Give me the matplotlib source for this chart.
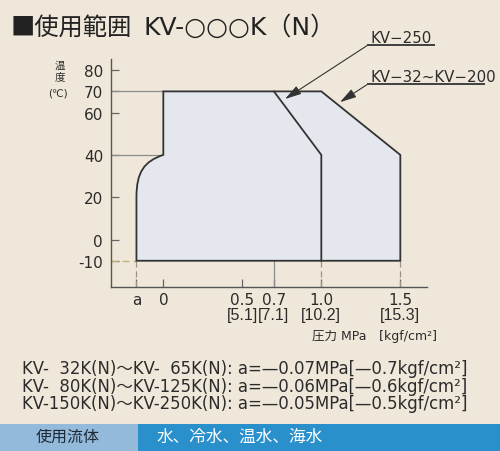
import matplotlib
matplotlib.use('Agg')
import matplotlib.pyplot as plt
from matplotlib.path import Path
from matplotlib.patches import PathPatch, Rectangle
from matplotlib.transforms import blended_transform_factory

plt.rcParams['font.family'] = ['DejaVu Sans', 'Noto Sans CJK JP']

colors = {
    'bg': '#EFE8DA',
    'fill': '#E4E8EE',
    'edge': '#333333',
    'ref': '#8C8C8C',
    'gold': '#C4B27A',
    'text': '#2B2B2B',
    'band_left': '#93BADA',
    'band_right': '#2A90CC',
}

# range data (pressure MPa, temperature C); "a" is drawn schematically left of 0
a_pos = -0.17
t_min, t_knee, t_max = -10, 40, 70
p_250_knee, p_small, p_large = 0.7, 1.0, 1.5
t_curve_end = 20

temp_ticks = [-10, 0, 20, 40, 60, 70, 80]
press_ticks = [a_pos, 0, 0.5, 0.7, 1.0, 1.5]
press_labels = ['a', '0', '0.5', '0.7', '1.0', '1.5']
kgf_labels = ['', '', '[5.1]', '[7.1]', '[10.2]', '[15.3]']

notes = [
    'KV-\u200732K(N)\u301cKV-\u200765K(N): a=\u20140.07MPa[\u20140.7kgf/cm\u00b2]',
    'KV-\u200780K(N)\u301cKV-125K(N): a=\u20140.06MPa[\u20140.6kgf/cm\u00b2]',
    'KV-150K(N)\u301cKV-250K(N): a=\u20140.05MPa[\u20140.5kgf/cm\u00b2]',
]
fluids = '水、冷水、温水、海水'

W, H = 500, 452


def fx(px):
    return px / W


def fy(py):
    return 1 - py / H


fig = plt.figure(figsize=(5, 4.52), dpi=100, facecolor=colors['bg'])
ax = fig.add_axes([fx(110.7), fy(288), 316 / W, 228 / H])
ax.set_facecolor('none')
ax.set_xlim(-0.333, 1.667)
ax.set_ylim(-22.4, 85.3)
for s in ['top', 'right']:
    ax.spines[s].set_visible(False)
for s in ['left', 'bottom']:
    ax.spines[s].set_color('#555555')
    ax.spines[s].set_linewidth(1.0)

# operating range outline
verts = [(a_pos, t_min), (p_large, t_min), (p_large, t_knee), (p_small, t_max),
         (0, t_max), (0, t_knee),
         (-0.12, 37), (a_pos, 32), (a_pos, t_curve_end),
         (a_pos, t_min), (a_pos, t_min)]
codes = [Path.MOVETO, Path.LINETO, Path.LINETO, Path.LINETO,
         Path.LINETO, Path.LINETO,
         Path.CURVE4, Path.CURVE4, Path.CURVE4,
         Path.LINETO, Path.CLOSEPOLY]
ax.add_patch(PathPatch(Path(verts, codes), facecolor=colors['fill'],
                       edgecolor=colors['edge'], lw=1.3, zorder=3))
ax.plot([p_250_knee, p_small, p_small], [t_max, t_knee, t_min],
        color=colors['edge'], lw=1.3, zorder=4)

# reference lines
x0 = ax.get_xlim()[0]
y0 = ax.get_ylim()[0]
ax.plot([x0, 0], [t_max, t_max], color=colors['ref'], lw=0.9, zorder=2)
ax.plot([x0, 0], [t_knee, t_knee], color=colors['ref'], lw=0.9, zorder=2)
ax.plot([x0, a_pos], [t_min, t_min], color=colors['gold'], lw=1.0,
        ls=(0, (5, 3)), zorder=2)
for xv in [a_pos, p_small, p_large]:
    ax.plot([xv, xv], [y0, t_min], color='#9A9486', lw=0.9,
            ls=(0, (5, 3)), zorder=2)
ax.plot([p_250_knee, p_250_knee], [y0, t_min], color='#8C8C8C', lw=0.9, zorder=2)

ax.set_yticks(temp_ticks)
ax.set_yticklabels([str(t) for t in temp_ticks])
ax.set_xticks(press_ticks)
ax.set_xticklabels(press_labels)
ax.tick_params(direction='in', length=6, width=0.9, color='#666666',
               labelsize=11, labelcolor=colors['text'])
ax.tick_params(axis='y', pad=5.5)
ax.tick_params(axis='x', pad=3.5)

# second row of x labels in kgf/cm2
trans = blended_transform_factory(ax.transData, fig.transFigure)
for xv, lab in zip(press_ticks, kgf_labels):
    ax.text(xv, fy(320), lab, transform=trans, ha='center', va='baseline',
            fontsize=11.5, family=['Liberation Sans'], color=colors['text'],
            clip_on=False)

# axis titles
fig.text(fx(60), fy(66), '温', fontsize=7.5, ha='center', va='center',
         color=colors['text'])
fig.text(fx(60), fy(77), '度', fontsize=7.5, ha='center', va='center',
         color=colors['text'])
fig.text(fx(58), fy(94), '(℃)', fontsize=7.5, ha='center', va='center',
         color=colors['text'])
fig.text(fx(374), fy(337), '圧力 MPa\u3000[kgf/cm\u00b2]', fontsize=9,
         ha='center', va='center', color=colors['text'])

# title
fig.text(fx(11), fy(28), '■使用範囲', fontsize=17.5, ha='left', va='center',
         color='#222222', family=['Noto Sans CJK JP'])
fig.text(fx(143), fy(28), 'KV-○○○K（N）', fontsize=18, ha='left',
         va='center', color='#222222')

# leader labels
labels = [('KV\u2212250', 43, 46, 435, (0.77, 66.4)),
          ('KV\u221232~KV\u2212200', 82, 85, 485, (1.118, 64.9))]
for txt, ty, uy, ux2, tip in labels:
    fig.text(fx(370), fy(ty), txt, fontsize=10.8, ha='left', va='baseline',
             color=colors['text'])
    fig.add_artist(Rectangle((fx(367), fy(uy + 0.6)), fx(ux2) - fx(367),
                             1.3 / H, transform=fig.transFigure,
                             facecolor='#444444', edgecolor='none', zorder=5))
    ax.annotate('', xy=tip, xytext=(fx(368), fy(uy)),
                textcoords='figure fraction', annotation_clip=False,
                arrowprops=dict(arrowstyle='-|>,head_length=1.0,head_width=0.28',
                                color='#333333', lw=0.8, shrinkA=0, shrinkB=0))

# notes
for i, line in enumerate(notes):
    fig.text(fx(22), fy(374 + i * 17.7), line, fontsize=11.9, ha='left',
             va='baseline', color=colors['text'])

# fluid band
fig.add_artist(Rectangle((0, 0), fx(138), 27 / H, transform=fig.transFigure,
                         facecolor=colors['band_left'], edgecolor='none'))
fig.add_artist(Rectangle((fx(138), 0), 1 - fx(138), 27 / H,
                         transform=fig.transFigure,
                         facecolor=colors['band_right'], edgecolor='none'))
fig.text(fx(68), fy(437), '使用流体', fontsize=11.5, ha='center', va='center',
         color='#1E2A36')
fig.text(fx(157), fy(437), fluids, fontsize=12, ha='left', va='center',
         color='white')

fig.savefig('out.png', dpi=100, facecolor=colors['bg'])
